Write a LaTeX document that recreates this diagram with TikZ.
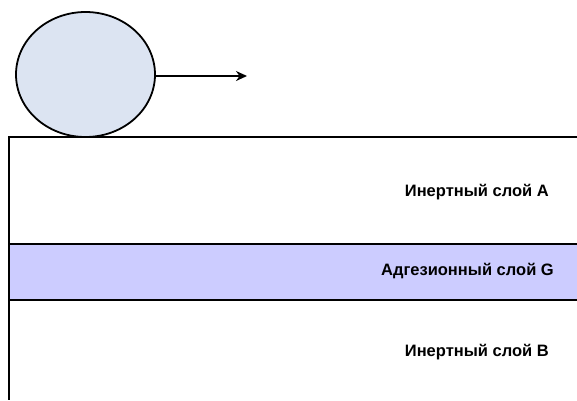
\documentclass[tikz,border=0pt]{standalone}
\usepackage{fontspec}
\setmainfont{Liberation Sans}
\usetikzlibrary{arrows.meta,shapes.geometric}
\definecolor{ballfill}{HTML}{DCE4F2}
\definecolor{bandfill}{HTML}{CCCCFF}
\begin{document}
\begin{tikzpicture}[x=1pt,y=-1pt,
  layerline/.style={draw=black,line width=1.8pt},
  lbl/.style={font=\bfseries\fontsize{16.5}{20}\selectfont,anchor=east,inner sep=0pt}]
\useasboundingbox (0,0) rectangle (577,400);
% adhesive band
\fill[bandfill] (9,244) rectangle (577,300);
\coordinate (tl) at (9,137);
\coordinate (tr) at (577,137);
\coordinate (bl) at (9,400);
\coordinate (gtl) at (9,244);
\coordinate (gtr) at (577,244);
\coordinate (gbl) at (9,300);
\coordinate (gbr) at (577,300);
\draw[layerline] (tr) -- (tl) -- (bl);
\draw[layerline] (gtl) -- (gtr);
\draw[layerline] (gbl) -- (gbr);
% ball
\node[ellipse, draw=black, line width=1.8pt, fill=ballfill, minimum width=139pt, minimum height=125pt, inner sep=0pt] (ball) at (85.5,74.5) {};
\coordinate (tip) at (247,76);
\draw[line width=2.6pt,-{Stealth[length=11pt,width=10pt]}] (ball.east |- tip) -- (tip);
% labels
\node[lbl] (la) at (549,192) {Инертный слой A};
\node[lbl] (lg) at (554,271) {Адгезионный слой G};
\node[lbl] (lb) at (549,352) {Инертный слой B};
\end{tikzpicture}
\end{document}
